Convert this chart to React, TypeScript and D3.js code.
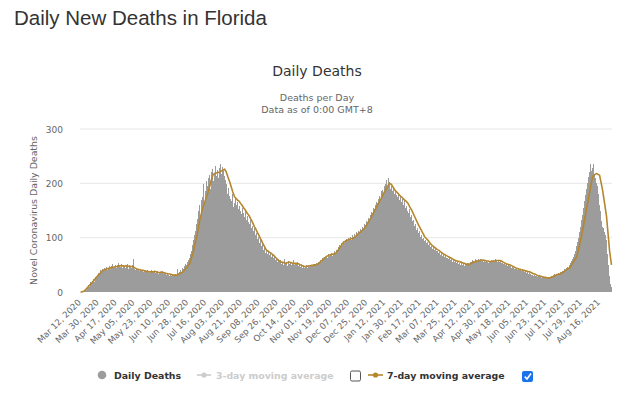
import React from "react";
import * as d3 from "d3";

const START_DATE = "2020-03-12";

const dailyDeaths: number[] = [
  0, 0, 1, 2, 3, 5, 4, 9, 12, 10,
  18, 15, 20, 24, 19, 28, 27, 31, 35, 33,
  40, 38, 42, 39, 45, 41, 46, 40, 44, 47,
  43, 48, 52, 44, 46, 50, 45, 49, 53, 47,
  46, 51, 44, 49, 48, 45, 50, 52, 43, 47,
  46, 44, 49, 60, 42, 41, 45, 40, 43, 38,
  42, 39, 41, 37, 40, 38, 36, 41, 39, 35,
  38, 40, 36, 39, 37, 35, 39, 38, 34, 37,
  36, 35, 38, 33, 36, 34, 32, 35, 31, 33,
  30, 32, 29, 33, 31, 30, 34, 32, 43, 35,
  37, 40, 36, 44, 42, 47, 52, 49, 55, 58,
  62, 70, 75, 86, 95, 104, 112, 125, 135, 150,
  160, 142, 170, 175, 198, 165, 186, 204, 196, 210,
  215, 190, 220, 226, 205, 219, 232, 214, 225, 210,
  228, 236, 218, 230, 222, 214, 206, 198, 180, 191,
  176, 172, 168, 180, 157, 164, 175, 160, 166, 152,
  158, 150, 144, 155, 146, 138, 150, 132, 140, 128,
  125, 132, 118, 122, 112, 118, 104, 109, 98, 101,
  90, 95, 84, 88, 78, 82, 72, 76, 70, 73,
  69, 74, 65, 68, 62, 64, 59, 61, 56, 60,
  55, 58, 52, 56, 50, 60, 53, 55, 48, 57,
  52, 55, 50, 54, 58, 49, 53, 51, 56, 48,
  50, 46, 51, 45, 48, 44, 47, 50, 45, 49,
  46, 50, 48, 47, 52, 49, 51, 53, 50, 55,
  56, 58, 55, 62, 60, 64, 63, 66, 62, 70,
  66, 68, 72, 67, 70, 75, 71, 78, 74, 82,
  86, 83, 90, 87, 94, 91, 96, 93, 98, 95,
  100, 97, 102, 96, 104, 101, 106, 103, 110, 107,
  112, 109, 116, 113, 120, 118, 125, 123, 130, 128,
  137, 134, 142, 148, 145, 155, 152, 160, 165, 163,
  172, 176, 170, 185, 188, 181, 195, 198, 206, 192,
  210, 203, 190, 196, 185, 192, 180, 186, 178, 175,
  182, 170, 176, 165, 172, 160, 168, 155, 158, 150,
  145, 152, 138, 141, 130, 133, 122, 126, 115, 118,
  108, 112, 102, 105, 98, 100, 94, 96, 90, 92,
  86, 88, 83, 85, 80, 82, 77, 79, 75, 76,
  72, 74, 69, 71, 66, 68, 64, 67, 62, 63,
  60, 62, 58, 61, 56, 58, 55, 57, 53, 55,
  52, 54, 50, 53, 49, 51, 48, 52, 50, 53,
  54, 52, 56, 55, 58, 57, 55, 60, 58, 57,
  61, 58, 60, 57, 59, 56, 58, 55, 57, 56,
  54, 57, 55, 58, 56, 59, 57, 60, 58, 56,
  59, 55, 57, 53, 54, 51, 52, 50, 51, 48,
  49, 47, 48, 45, 46, 44, 43, 42, 44, 41,
  41, 40, 42, 38, 40, 37, 39, 36, 38, 35,
  36, 34, 35, 33, 32, 31, 30, 32, 29, 30,
  28, 29, 27, 28, 26, 27, 25, 27, 25, 26,
  27, 26, 28, 27, 29, 30, 31, 33, 32, 34,
  33, 35, 34, 37, 36, 39, 38, 42, 41, 44,
  46, 45, 50, 53, 57, 60, 64, 70, 76, 84,
  92, 100, 110, 120, 132, 142, 155, 168, 178, 190,
  200, 212, 220, 235, 222, 228, 236, 218, 210, 200,
  195, 180, 160, 150, 130, 120, 118, 110, 105, 95,
  70, 50, 30, 15, 10,
];

const movingAvg7: number[] = [
  0, 0, 1, 1, 2, 4, 6, 8, 10, 12,
  14, 16, 18, 20, 22, 25, 27, 29, 31, 33,
  35, 37, 39, 40, 41, 42, 42, 43, 43, 44,
  44, 45, 45, 46, 46, 46, 47, 47, 48, 48,
  48, 49, 48, 48, 47, 48, 48, 47, 47, 48,
  47, 47, 47, 46, 45, 44, 43, 42, 42, 41,
  41, 40, 40, 40, 39, 39, 38, 38, 38, 37,
  37, 37, 37, 37, 38, 38, 37, 37, 36, 36,
  36, 37, 36, 36, 35, 35, 34, 34, 33, 33,
  33, 32, 32, 31, 31, 31, 31, 31, 32, 33,
  34, 35, 36, 37, 39, 41, 43, 45, 48, 50,
  53, 59, 65, 71, 79, 87, 95, 102, 112, 122,
  133, 140, 148, 155, 160, 166, 171, 176, 182, 188,
  195, 202, 209, 215, 217, 218, 219, 219, 220, 220,
  221, 222, 223, 224, 225, 226, 223, 219, 213, 208,
  203, 197, 191, 185, 180, 175, 173, 171, 169, 168,
  166, 163, 161, 158, 155, 153, 150, 147, 144, 142,
  139, 135, 132, 128, 124, 120, 117, 113, 109, 106,
  102, 98, 95, 91, 87, 84, 80, 77, 76, 75,
  73, 72, 71, 69, 68, 66, 64, 62, 60, 58,
  57, 56, 55, 55, 54, 54, 53, 53, 54, 55,
  55, 54, 54, 53, 53, 52, 53, 53, 52, 52,
  51, 50, 49, 48, 48, 47, 47, 47, 47, 48,
  48, 48, 49, 49, 49, 50, 50, 50, 51, 52,
  53, 55, 57, 58, 60, 62, 63, 65, 66, 67,
  68, 68, 69, 69, 70, 70, 71, 72, 74, 77,
  79, 82, 85, 88, 90, 92, 93, 94, 95, 96,
  97, 97, 98, 98, 99, 100, 101, 103, 105, 107,
  108, 110, 111, 113, 114, 116, 118, 121, 124, 127,
  130, 133, 136, 140, 143, 147, 150, 154, 157, 161,
  164, 168, 171, 175, 179, 182, 185, 188, 191, 195,
  198, 200, 199, 197, 194, 191, 188, 186, 184, 182,
  180, 178, 176, 175, 173, 171, 169, 168, 166, 164,
  161, 157, 154, 151, 147, 143, 139, 135, 131, 127,
  123, 120, 116, 113, 109, 106, 102, 100, 98, 96,
  94, 91, 89, 87, 85, 84, 82, 81, 79, 78,
  77, 76, 74, 73, 71, 70, 69, 68, 67, 66,
  65, 64, 63, 62, 61, 60, 59, 58, 57, 57,
  56, 56, 55, 55, 54, 53, 53, 52, 51, 51,
  50, 51, 52, 53, 54, 54, 55, 56, 56, 57,
  57, 58, 58, 59, 59, 59, 58, 58, 57, 57,
  57, 56, 56, 56, 56, 57, 57, 57, 58, 58,
  58, 58, 58, 57, 56, 55, 54, 53, 52, 51,
  51, 50, 50, 49, 48, 47, 46, 45, 44, 43,
  43, 42, 42, 41, 41, 40, 40, 39, 39, 38,
  38, 37, 37, 36, 35, 34, 33, 33, 32, 31,
  30, 30, 29, 29, 28, 28, 27, 27, 27, 26,
  26, 26, 26, 27, 27, 28, 29, 30, 31, 32,
  32, 33, 33, 34, 35, 36, 37, 39, 40, 42,
  43, 44, 44, 47, 50, 53, 56, 59, 62, 65,
  72, 80, 88, 97, 105, 114, 124, 134, 144, 154,
  164, 174, 184, 194, 203, 212, 214, 216, 217, 218,
  217, 216, 215, 206, 197, 188, 176, 164, 151, 139,
  118, 98, 77, 63, 50,
];

const xTickLabels: string[] = [
  "Mar 12, 2020", "Mar 30, 2020", "Apr 17, 2020", "May 05, 2020", "May 23, 2020",
  "Jun 10, 2020", "Jun 28, 2020", "Jul 16, 2020", "Aug 03, 2020", "Aug 21, 2020",
  "Sep 08, 2020", "Sep 26, 2020", "Oct 14, 2020", "Nov 01, 2020", "Nov 19, 2020",
  "Dec 07, 2020", "Dec 25, 2020", "Jan 12, 2021", "Jan 30, 2021", "Feb 17, 2021",
  "Mar 07, 2021", "Mar 25, 2021", "Apr 12, 2021", "Apr 30, 2021", "May 18, 2021",
  "Jun 05, 2021", "Jun 23, 2021", "Jul 11, 2021", "Jul 29, 2021", "Aug 16, 2021",
];

const yTicks: number[] = [0, 100, 200, 300];

const W = 640;
const H = 395;
const M = { left: 80, right: 612, top: 129, bottom: 292 };
const BAR = "#9c9c9c";
const GOLD = "#b5862e";
const FONT = "'DejaVu Sans', Verdana, sans-serif";

export default function App() {
  const start = d3.timeParse("%Y-%m-%d")(START_DATE) as Date;
  const fmt = d3.timeFormat("%b %d, %Y");
  const labels = dailyDeaths.map((_, i) => fmt(d3.timeDay.offset(start, i)));
  const idx = dailyDeaths.map((_, i) => i);

  const x = d3.scaleBand<number>().domain(idx).range([M.left, M.right]).padding(0);
  const y = d3.scaleLinear().domain([0, 300]).range([M.bottom, M.top]);
  const step = x.step();

  const line = d3
    .line<number>()
    .x((_, i) => (x(i) as number) + step / 2)
    .y((d) => y(d))
    .curve(d3.curveLinear);

  const ticks = xTickLabels
    .map((l) => ({ label: l, i: labels.indexOf(l) }))
    .filter((t) => t.i >= 0);

  return (
    <div style={{ position: "absolute", left: 0, top: 0 }}>
      <svg width={W} height={H} style={{ display: "block", background: "#fff" }}>
        <text x={14} y={25} fontFamily="'Liberation Sans', Arial, sans-serif" fontSize={20.5} fill="#333">
          Daily New Deaths in Florida
        </text>
        <text x={317} y={76} textAnchor="middle" fontFamily={FONT} fontSize={14} fill="#333">
          Daily Deaths
        </text>
        <text x={317} y={101} textAnchor="middle" fontFamily={FONT} fontSize={9.5} fill="#666">
          Deaths per Day
        </text>
        <text x={317} y={113} textAnchor="middle" fontFamily={FONT} fontSize={9.5} fill="#666">
          Data as of 0:00 GMT+8
        </text>

        {yTicks.map((t) => (
          <g key={t}>
            {t > 0 && (
              <line x1={M.left} x2={M.right} y1={y(t)} y2={y(t)} stroke="#e6e6e6" strokeWidth={1} />
            )}
            <text x={63} y={y(t) + 3.5} textAnchor="end" fontFamily={FONT} fontSize={9} fill="#666">
              {t}
            </text>
          </g>
        ))}

        <text
          transform={`translate(37,${(M.top + M.bottom) / 2}) rotate(-90)`}
          textAnchor="middle"
          fontFamily={FONT}
          fontSize={9.4}
          fill="#666"
        >
          Novel Coronavirus Daily Deaths
        </text>

        <g shapeRendering="crispEdges">
          {dailyDeaths.map((d, i) => (
            <rect
              key={i}
              x={x(i) as number}
              y={y(d)}
              width={step}
              height={M.bottom - y(d)}
              fill={BAR}
            />
          ))}
        </g>

        <path d={line(movingAvg7) || ""} fill="none" stroke={GOLD} strokeWidth={1.6} strokeLinejoin="round" />

        {ticks.map((t) => {
          const tx = (x(t.i) as number) + step / 2 + 1;
          return (
            <text
              key={t.label}
              transform={`translate(${tx},303) rotate(-45)`}
              textAnchor="end"
              fontFamily={FONT}
              fontSize={8.6}
              fill="#666"
            >
              {t.label}
            </text>
          );
        })}

        <g fontFamily={FONT} fontSize={9.4} fontWeight="bold">
          <circle cx={102} cy={375} r={4.3} fill={BAR} />
          <text x={114} y={378.5} fill="#333">Daily Deaths</text>

          <line x1={197} x2={211} y1={375} y2={375} stroke="#cccccc" strokeWidth={1.6} />
          <circle cx={204} cy={375} r={2.6} fill="#cccccc" />
          <text x={216} y={378.5} fill="#cccccc">3-day moving average</text>
          <rect x={350.5} y={371} width={10} height={10} rx={1.5} fill="#fff" stroke="#555" strokeWidth={1} />

          <line x1={368} x2={383} y1={375} y2={375} stroke={GOLD} strokeWidth={1.6} />
          <circle cx={375.5} cy={375} r={2.6} fill={GOLD} />
          <text x={387} y={378.5} fill="#333">7-day moving average</text>
          <rect x={522} y={371} width={11} height={11} rx={2} fill="#1a73e8" />
          <path d="M524.8,376.6 L527,379 L531,373.6" fill="none" stroke="#fff" strokeWidth={1.6} />
        </g>
      </svg>
    </div>
  );
}
